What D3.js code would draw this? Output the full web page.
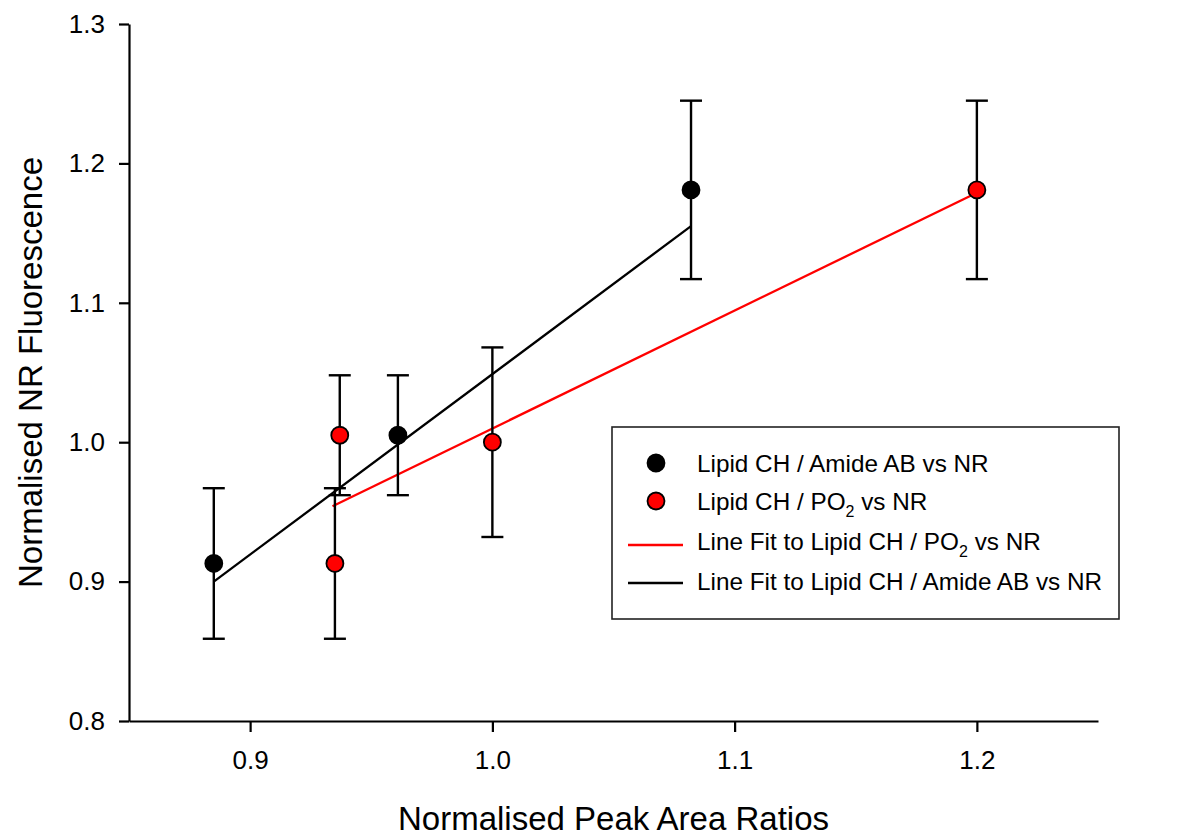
<!DOCTYPE html>
<html>
<head>
<meta charset="utf-8">
<script src="https://cdn.jsdelivr.net/npm/d3@7"></script>
<style>
  body { margin: 0; background: #fff; }
  text { font-family: "Liberation Sans", Arial, sans-serif; fill: #000; }
</style>
</head>
<body>
<div id="chart"></div>
<script>
// --- data ---
const amideX   = [0.885, 0.961, 1.082];
const amideY   = [0.913, 1.005, 1.181];
const amideErr = [0.054, 0.043, 0.064];

const po2X   = [0.935, 0.937, 1.000, 1.200];
const po2Y   = [0.913, 1.005, 1.000, 1.181];
const po2Err = [0.054, 0.043, 0.068, 0.064];

// fitted line end points
const amideFitX = [0.885, 1.082];
const amideFitY = [0.900, 1.155];
const po2FitX   = [0.934, 1.200];
const po2FitY   = [0.954, 1.179];

const xTicks = [0.9, 1.0, 1.1, 1.2];
const yTicks = [0.8, 0.9, 1.0, 1.1, 1.2, 1.3];

const width = 1192, height = 839;

const svg = d3.select("#chart").append("svg")
  .attr("width", width).attr("height", height);

const x = d3.scaleLinear().domain([0.85, 1.25]).range([129, 1098]);
const y = d3.scaleLinear().domain([0.8, 1.3]).range([721, 24]);

// axes
const xAxis = svg.append("g")
  .attr("transform", `translate(0,${y(0.8)})`)
  .call(d3.axisBottom(x).tickValues(xTicks).tickFormat(d3.format(".1f"))
    .tickSize(11).tickSizeOuter(0).tickPadding(19));
const yAxis = svg.append("g")
  .attr("transform", `translate(${x(0.85)},0)`)
  .call(d3.axisLeft(y).tickValues(yTicks).tickFormat(d3.format(".1f"))
    .tickSize(10).tickSizeOuter(0).tickPadding(14));

[xAxis, yAxis].forEach(g => {
  g.selectAll("path, line").attr("stroke", "#000").attr("stroke-width", 2.2);
  g.selectAll("text").style("font-size", "26px")
    .style("font-family", '"Liberation Sans", Arial, sans-serif');
});

// axis titles
svg.append("text")
  .attr("x", (x.range()[0] + x.range()[1]) / 2).attr("y", 830)
  .attr("text-anchor", "middle").style("font-size", "33px")
  .text("Normalised Peak Area Ratios");
svg.append("text")
  .attr("transform", `translate(42,${(y.range()[0] + y.range()[1]) / 2}) rotate(-90)`)
  .attr("text-anchor", "middle").style("font-size", "33px")
  .text("Normalised NR Fluorescence");

// fit lines
const line = d3.line().x(d => x(d[0])).y(d => y(d[1]));
svg.append("path")
  .datum(d3.zip(amideFitX, amideFitY))
  .attr("d", line).attr("fill", "none")
  .attr("stroke", "#000").attr("stroke-width", 2.3);
svg.append("path")
  .datum(d3.zip(po2FitX, po2FitY))
  .attr("d", line).attr("fill", "none")
  .attr("stroke", "#ff0000").attr("stroke-width", 2.3);

// error bars + points
function drawSeries(xs, ys, errs, fill) {
  const data = xs.map((v, i) => ({x: v, y: ys[i], e: errs[i]}));
  const g = svg.append("g");
  const bars = g.selectAll("g.err").data(data).join("g")
    .attr("class", "err")
    .attr("stroke", "#000").attr("stroke-width", 2.4);
  bars.append("line")
    .attr("x1", d => x(d.x)).attr("x2", d => x(d.x))
    .attr("y1", d => y(d.y - d.e)).attr("y2", d => y(d.y + d.e));
  bars.append("line")
    .attr("x1", d => x(d.x) - 11).attr("x2", d => x(d.x) + 11)
    .attr("y1", d => y(d.y + d.e)).attr("y2", d => y(d.y + d.e));
  bars.append("line")
    .attr("x1", d => x(d.x) - 11).attr("x2", d => x(d.x) + 11)
    .attr("y1", d => y(d.y - d.e)).attr("y2", d => y(d.y - d.e));
  g.selectAll("circle").data(data).join("circle")
    .attr("cx", d => x(d.x)).attr("cy", d => y(d.y))
    .attr("r", 8.5)
    .attr("fill", fill).attr("stroke", "#000").attr("stroke-width", 1.8);
}
drawSeries(amideX, amideY, amideErr, "#000");
drawSeries(po2X, po2Y, po2Err, "#ff0000");

// legend
const legend = svg.append("g");
legend.append("rect")
  .attr("x", 612).attr("y", 427).attr("width", 507).attr("height", 192)
  .attr("fill", "#fff").attr("stroke", "#222").attr("stroke-width", 1.6);

const legRows = [
  {kind: "dot",  color: "#000",    cy: 463, base: 472, text: ["Lipid CH / Amide AB vs NR"]},
  {kind: "dot",  color: "#ff0000", cy: 501, base: 510, text: ["Lipid CH / PO", "2", " vs NR"]},
  {kind: "line", color: "#ff0000", cy: 545, base: 550, text: ["Line Fit to Lipid CH / PO", "2", " vs NR"]},
  {kind: "line", color: "#000",    cy: 583, base: 590, text: ["Line Fit to Lipid CH / Amide AB vs NR"]}
];

legRows.forEach(r => {
  if (r.kind === "dot") {
    legend.append("circle").attr("cx", 656).attr("cy", r.cy).attr("r", 8.5)
      .attr("fill", r.color).attr("stroke", "#000").attr("stroke-width", 1.8);
  } else {
    legend.append("line").attr("x1", 628).attr("x2", 683)
      .attr("y1", r.cy).attr("y2", r.cy)
      .attr("stroke", r.color).attr("stroke-width", 2.3);
  }
  const t = legend.append("text").attr("x", 697).attr("y", r.base)
    .style("font-size", "24.3px");
  r.text.forEach((s, i) => {
    const sp = t.append("tspan").text(s);
    if (i === 1) sp.attr("dy", 7).style("font-size", "16px");
    if (i === 2) sp.attr("dy", -7);
  });
});
</script>
</body>
</html>
